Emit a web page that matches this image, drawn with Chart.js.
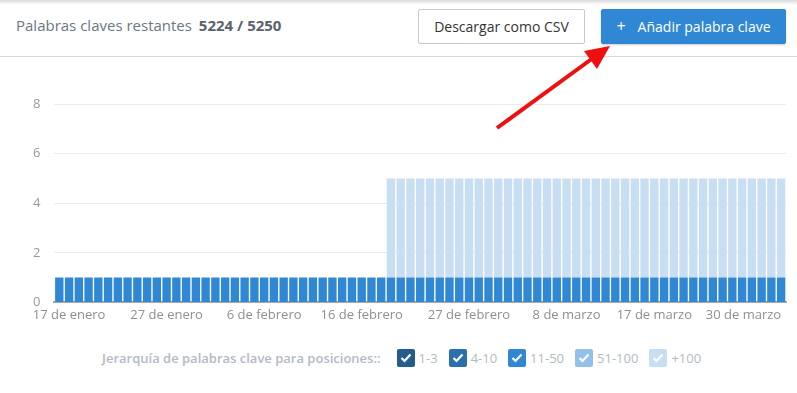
<!DOCTYPE html>
<html>
<head>
<meta charset="utf-8">
<script src="https://cdn.jsdelivr.net/npm/chart.js@4"></script>
<style>
  html, body { margin: 0; padding: 0; background: #fff; }
  body { width: 797px; height: 393px; position: relative; overflow: hidden; font-family: "Open Sans", sans-serif; }
  .shadow { position: absolute; left: 0; top: 0; width: 797px; height: 5px; background: linear-gradient(#dcdcdc, rgba(255,255,255,0)); }
  .header { position: absolute; left: 0; top: 0; width: 797px; height: 56px; border-bottom: 1px solid #d6dae0; }
  .remaining { position: absolute; left: 16px; top: 15px; font-size: 15px; color: #6e767f; white-space: nowrap; }
  .remaining b { color: #5a626c; font-weight: 700; margin-left: 3px; }
  .btn { position: absolute; top: 9px; height: 35px; box-sizing: border-box; font-size: 14px; line-height: 33px; text-align: center; border-radius: 2px; white-space: nowrap; }
  .btn-csv { left: 418px; width: 167px; border: 1px solid #c9c9c9; color: #333; background: #fff; }
  .btn-add { left: 601px; width: 185px; border: 1px solid #2f86d1; color: #fff; background: #3088d4; box-shadow: 0 1px 2px rgba(0,0,0,0.2); }
  .btn-add .plus { margin-right: 12px; font-size: 16px; }
  .chart-box { position: absolute; left: 0; top: 60px; width: 797px; height: 270px; }
  .legend { position: absolute; left: 102px; top: 347px; height: 22px; display: flex; align-items: center; font-size: 13px; color: #b3bac4; white-space: nowrap; }
  .legend .title { font-weight: 600; margin-right: 16px; }
  .legend .item { display: flex; align-items: center; margin-right: 11px; }
  .legend .box { width: 18px; height: 18px; border-radius: 2px; margin-right: 4px; display: flex; align-items: center; justify-content: center; }
  .arrow { position: absolute; left: 0; top: 0; }
</style>
</head>
<body>
<div class="header">
  <div class="remaining">Palabras claves restantes <b>5224 / 5250</b></div>
  <div class="btn btn-csv">Descargar como CSV</div>
  <div class="btn btn-add"><span class="plus">+</span>Añadir palabra clave</div>
</div>
<div class="shadow"></div>
<div class="chart-box"><canvas id="rankChart"></canvas></div>
<div class="legend" id="legend"><span class="title">Jerarquía de palabras clave para posiciones::</span></div>
<svg class="arrow" width="797" height="393">
  <line x1="497" y1="128" x2="593" y2="58" stroke="#f00f0f" stroke-width="4"></line>
  <polygon points="610,46 597,69 584,51" fill="#f00f0f"></polygon>
</svg>
<script>
// Days shown on the x axis
const dayLabels = [
  '16 de enero', '17 de enero', '18 de enero', '19 de enero', '20 de enero', '21 de enero', '22 de enero', '23 de enero',
  '24 de enero', '25 de enero', '26 de enero', '27 de enero', '28 de enero', '29 de enero', '30 de enero', '31 de enero',
  '1 de febrero', '2 de febrero', '3 de febrero', '4 de febrero', '5 de febrero', '6 de febrero', '7 de febrero', '8 de febrero',
  '9 de febrero', '10 de febrero', '11 de febrero', '12 de febrero', '13 de febrero', '14 de febrero', '15 de febrero', '16 de febrero',
  '17 de febrero', '18 de febrero', '19 de febrero', '20 de febrero', '21 de febrero', '22 de febrero', '23 de febrero', '24 de febrero',
  '25 de febrero', '26 de febrero', '27 de febrero', '28 de febrero', '29 de febrero',
  '1 de marzo', '2 de marzo', '3 de marzo', '4 de marzo', '5 de marzo', '6 de marzo', '7 de marzo', '8 de marzo',
  '9 de marzo', '10 de marzo', '11 de marzo', '12 de marzo', '13 de marzo', '14 de marzo', '15 de marzo', '16 de marzo',
  '17 de marzo', '18 de marzo', '19 de marzo', '20 de marzo', '21 de marzo', '22 de marzo', '23 de marzo', '24 de marzo',
  '25 de marzo', '26 de marzo', '27 de marzo', '28 de marzo', '29 de marzo', '30 de marzo'
];

// Only these day labels are printed under the axis
const shownTicks = ['17 de enero', '27 de enero', '6 de febrero', '16 de febrero', '27 de febrero', '8 de marzo', '17 de marzo', '30 de marzo'];

const yTicks = [0, 2, 4, 6, 8];

const seriesNames = ['1-3', '4-10', '11-50', '51-100', '+100'];

const pos1to3 = [];
const pos4to10 = [];
const pos11to50 = [
  1, 1, 1, 1, 1, 1, 1, 1, 1, 1, 1, 1, 1, 1, 1,
  1, 1, 1, 1, 1, 1, 1, 1, 1, 1, 1, 1, 1, 1, 1,
  1, 1, 1, 1, 1, 1, 1, 1, 1, 1, 1, 1, 1, 1, 1,
  1, 1, 1, 1, 1, 1, 1, 1, 1, 1, 1, 1, 1, 1, 1,
  1, 1, 1, 1, 1, 1, 1, 1, 1, 1, 1, 1, 1, 1, 1
];
const pos51to100 = [];
const pos100plus = [
  0, 0, 0, 0, 0, 0, 0, 0, 0, 0, 0, 0, 0, 0, 0,
  0, 0, 0, 0, 0, 0, 0, 0, 0, 0, 0, 0, 0, 0, 0,
  0, 0, 0, 0, 4, 4, 4, 4, 4, 4, 4, 4, 4, 4, 4,
  4, 4, 4, 4, 4, 4, 4, 4, 4, 4, 4, 4, 4, 4, 4,
  4, 4, 4, 4, 4, 4, 4, 4, 4, 4, 4, 4, 4, 4, 4
];

const seriesValues = [pos1to3, pos4to10, pos11to50, pos51to100, pos100plus];
const seriesColors = ['#245c8e', '#2b70ae', '#3088d4', '#93c0e8', '#c8def3'];

// Legend with checkboxes, built from the series
const legend = document.getElementById('legend');
seriesNames.forEach((name, i) => {
  const item = document.createElement('span');
  item.className = 'item';
  item.innerHTML = '<span class="box" style="background:' + seriesColors[i] + '">' +
    '<svg width="12" height="10" viewBox="0 0 12 10"><polyline points="1.5,5 4.5,8 10.5,1.5" fill="none" stroke="#fff" stroke-width="2.2"/></svg>' +
    '</span>' + name;
  legend.appendChild(item);
});

document.addEventListener('DOMContentLoaded', () => {
  const ctx = document.getElementById('rankChart').getContext('2d');
  new Chart(ctx, {
    type: 'bar',
    data: {
      labels: dayLabels,
      datasets: seriesNames.map((name, i) => ({
        label: name,
        data: seriesValues[i],
        backgroundColor: seriesColors[i],
        borderWidth: 0,
        barPercentage: 0.86,
        categoryPercentage: 1
      }))
    },
    options: {
      responsive: true,
      maintainAspectRatio: false,
      animation: false,
      layout: {
        padding: { left: 19, right: 11, top: 44, bottom: 2 }
      },
      plugins: {
        legend: { display: false },
        tooltip: { enabled: false }
      },
      scales: {
        x: {
          stacked: true,
          grid: { display: false, drawTicks: false },
          border: { color: '#a8a8a8', width: 2 },
          ticks: {
            autoSkip: false,
            maxRotation: 0,
            align: 'inner',
            padding: 5,
            color: '#8f8f8f',
            font: { family: 'Open Sans', size: 13 },
            callback: function (value) {
              const label = this.getLabelForValue(value);
              return shownTicks.includes(label) ? label : '';
            }
          }
        },
        y: {
          stacked: true,
          min: yTicks[0],
          max: yTicks[yTicks.length - 1],
          grid: { color: '#ebebeb', drawTicks: false },
          border: { display: false },
          afterBuildTicks: axis => { axis.ticks = yTicks.map(v => ({ value: v })); },
          ticks: {
            padding: 14,
            color: '#999',
            font: { family: 'Open Sans', size: 13 }
          }
        }
      }
    }
  });
});
</script>
</body>
</html>
